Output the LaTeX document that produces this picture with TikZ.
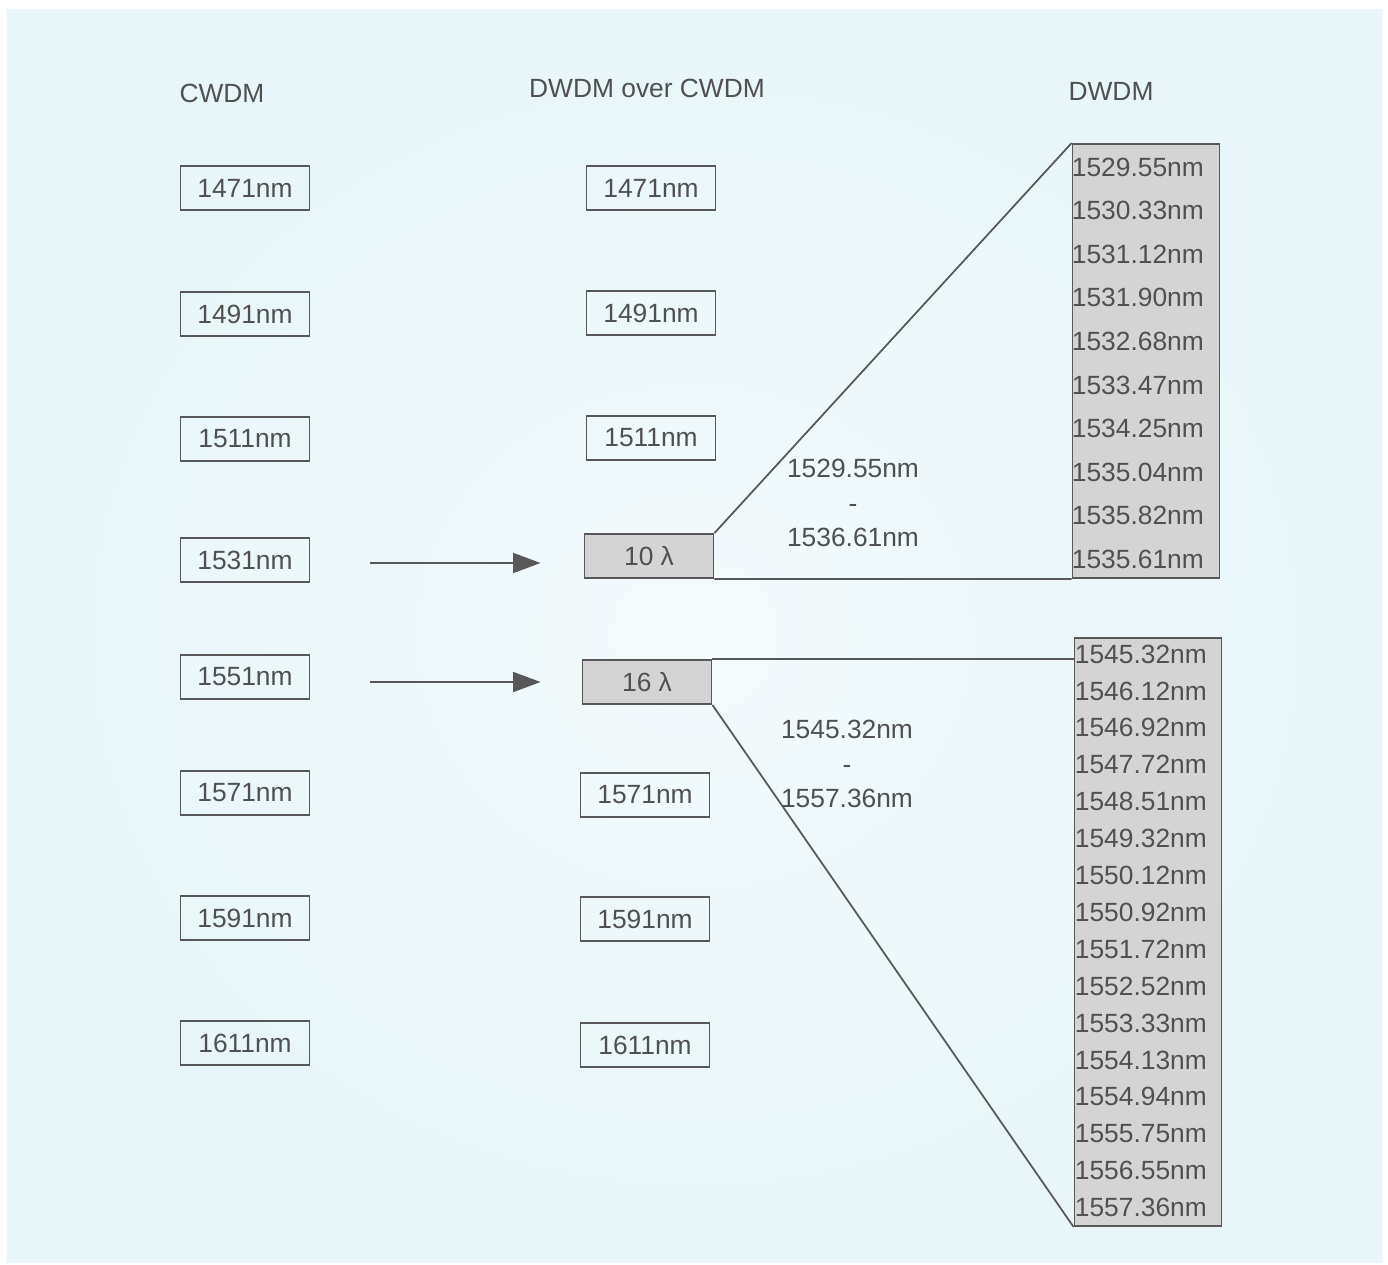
\documentclass[tikz,border=0pt]{standalone}
\usepackage{fontspec}
\setmainfont{Liberation Sans}
\usetikzlibrary{arrows.meta, positioning, calc}

\definecolor{txtgray}{RGB}{80,80,80}
\definecolor{linegray}{RGB}{88,88,88}
\definecolor{boxfill}{RGB}{212,212,212}
\definecolor{bgcyan}{RGB}{232,246,249}
\definecolor{bglight}{RGB}{243,250,252}

\begin{document}
\begin{tikzpicture}[
  x=0.02cm, y=-0.02cm,
  wave/.style = {
    rectangle, draw=linegray, line width=1.1pt,
    minimum width=2.58cm, minimum height=0.88cm, inner sep=0pt,
    text=txtgray, font=\fontsize{15}{18}\selectfont
  },
  bundle/.style = {wave, fill=boxfill},
  head/.style = {text=txtgray, font=\fontsize{15}{18}\selectfont},
  chanbox/.style = {
    rectangle, draw=linegray, line width=1.1pt, fill=boxfill,
    minimum width=2.94cm, inner sep=0pt
  },
  chan/.style = {anchor=west, inner sep=0pt, text=txtgray, font=\fontsize{15}{18}\selectfont},
  spanlabel/.style = {align=center, text=txtgray, font=\fontsize{15}{19.5}\selectfont},
  arrow/.style = {-{Triangle[length=5.5mm, width=4mm]}, line width=1.1pt, draw=linegray},
  fan/.style = {line width=1pt, draw=linegray}
]

  % Hintergrund
  \useasboundingbox (0,0) rectangle (1388,1264);
  \shade[shading=radial, inner color=bglight, outer color=bgcyan] (7,10) rectangle (1382,1262);

  % Spaltenkoepfe
  \node[head] (hc) at (222, 93)  {CWDM};
  \node[head] (hm) at (647, 88)  {DWDM over CWDM};
  \node[head] (hd) at (1111, 91) {DWDM};

  % CWDM-Kanaele links
  \node[wave] (c1471) at (245, 188)  {1471nm};
  \node[wave] (c1491) at (245, 314)  {1491nm};
  \node[wave] (c1511) at (245, 439)  {1511nm};
  \node[wave] (c1531) at (245, 560)  {1531nm};
  \node[wave] (c1551) at (245, 677)  {1551nm};
  \node[wave] (c1571) at (245, 793)  {1571nm};
  \node[wave] (c1591) at (245, 918)  {1591nm};
  \node[wave] (c1611) at (245, 1043) {1611nm};

  % DWDM ueber CWDM in der Mitte
  \node[wave]   (m1471) at (651, 188)  {1471nm};
  \node[wave]   (m1491) at (651, 313)  {1491nm};
  \node[wave]   (m1511) at (651, 438)  {1511nm};
  \node[bundle] (m10)   at (649, 556)  {10 λ};
  \node[bundle] (m16)   at (647, 682)  {16 λ};
  \node[wave]   (m1571) at (645, 795)  {1571nm};
  \node[wave]   (m1591) at (645, 919)  {1591nm};
  \node[wave]   (m1611) at (645, 1045) {1611nm};

  % Pfeile CWDM -> Buendel
  \draw[arrow] ($(c1531.east |- m10.west)+(60,7)$) -- ($(m10.west)+(-43,7)$);
  \draw[arrow] ($(c1551.east |- m16.west)+(60,0)$) -- ($(m16.west)+(-41,0)$);

  % DWDM-Kanaele rechts
  \node[chanbox, minimum height=8.68cm]  (d10) at (1146, 361) {};
  \node[chanbox, minimum height=11.76cm] (d16) at (1148, 932) {};

  \foreach \wl [count=\i from 0] in {1529.55,1530.33,1531.12,1531.90,1532.68,
      1533.47,1534.25,1535.04,1535.82,1535.61}
    \node[chan] (a\i) at ($(d10.north west)+(0, 24+43.6*\i)$) {\wl nm};

  \foreach \wl [count=\i from 0] in {1545.32,1546.12,1546.92,1547.72,1548.51,
      1549.32,1550.12,1550.92,1551.72,1552.52,1553.33,1554.13,1554.94,
      1555.75,1556.55,1557.36}
    \node[chan] (b\i) at ($(d16.north west)+(1, 17+36.9*\i)$) {\wl nm};

  % Auffaecherung
  \draw[fan] (m10.north east) -- (d10.north west);
  \draw[fan] (m10.south east) -- (d10.south west);
  \draw[fan] (m16.north east) -- (m16.north east -| d16.west);
  \draw[fan] (m16.south east) -- (d16.south west);

  % Bereichsangaben
  \node[spanlabel] (r10) at (853, 503) {1529.55nm\\-\\1536.61nm};
  \node[spanlabel] (r16) at (847, 764) {1545.32nm\\-\\1557.36nm};

\end{tikzpicture}
\end{document}
